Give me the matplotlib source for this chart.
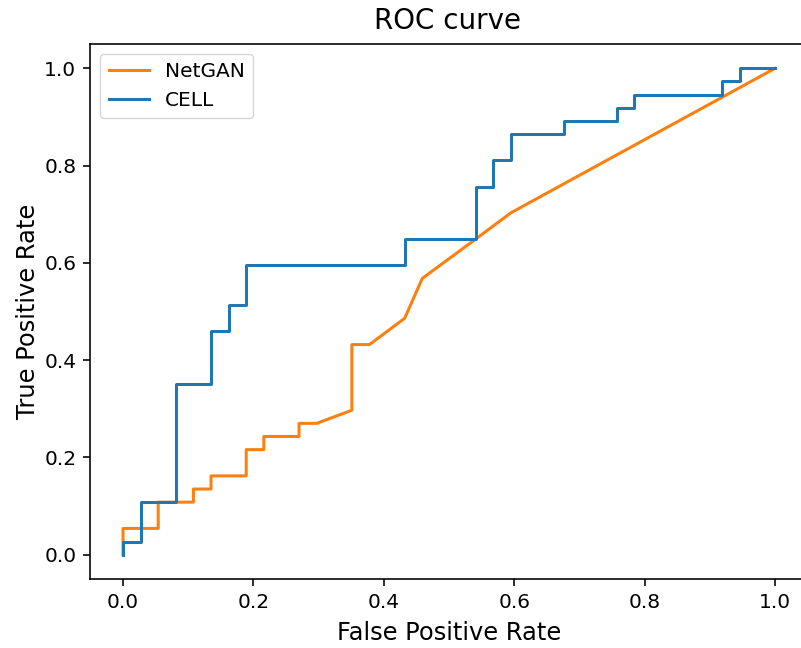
import matplotlib
matplotlib.use("Agg")
import matplotlib.pyplot as plt

# NetGAN ROC curve (orange)
netgan_fpr = [0.0, 0.0, 0.054, 0.054, 0.108, 0.108, 0.135, 0.135, 0.189, 0.189, 0.216, 0.216,
              0.270, 0.270, 0.297, 0.351, 0.351, 0.378, 0.432, 0.459, 0.541, 0.595, 1.0]
netgan_tpr = [0.0, 0.054, 0.054, 0.108, 0.108, 0.135, 0.135, 0.162, 0.162, 0.216, 0.216, 0.243,
              0.243, 0.270, 0.270, 0.297, 0.432, 0.432, 0.486, 0.568, 0.649, 0.703, 1.0]

# CELL ROC curve (blue)
cell_fpr = [0.0, 0.0, 0.027, 0.027, 0.081, 0.081, 0.135, 0.135, 0.162, 0.162, 0.189, 0.189,
            0.432, 0.432, 0.541, 0.541, 0.568, 0.568, 0.595, 0.595, 0.676, 0.676, 0.757, 0.757,
            0.784, 0.784, 0.919, 0.919, 0.946, 0.946, 1.0]
cell_tpr = [0.0, 0.027, 0.027, 0.108, 0.108, 0.351, 0.351, 0.459, 0.459, 0.514, 0.514, 0.595,
            0.595, 0.649, 0.649, 0.757, 0.757, 0.811, 0.811, 0.865, 0.865, 0.892, 0.892, 0.919,
            0.919, 0.946, 0.946, 0.973, 0.973, 1.0, 1.0]

labels = ["NetGAN", "CELL"]
colors = ["#ff7f0e", "#1f77b4"]

s = 1.45
plt.rcParams['font.family'] = ['DejaVu Sans']
fig = plt.figure(figsize=(8.01, 6.48), dpi=100)
W, H = 801, 648
left, right, bottom, top = 90.4, 807.6, 579, 44
ax = fig.add_axes([left / W, (H - bottom) / H, (right - left) / W, (bottom - top) / H])

ax.plot(netgan_fpr, netgan_tpr, color=colors[0], lw=1.5 * s, label=labels[0])
ax.plot(cell_fpr, cell_tpr, color=colors[1], lw=1.5 * s, label=labels[1])

ax.set_xlim(-0.05, 1.05)
ax.set_ylim(-0.05, 1.05)
ax.set_xticks([0.0, 0.2, 0.4, 0.6, 0.8, 1.0])
ax.set_yticks([0.0, 0.2, 0.4, 0.6, 0.8, 1.0])
ax.tick_params(labelsize=10 * s, length=3.5 * s, width=0.8 * s, pad=3.5 * s)
for sp in ax.spines.values():
    sp.set_linewidth(0.8 * s)

ax.set_xlabel("False Positive Rate", fontsize=17.4, labelpad=6.5)
ax.set_ylabel("True Positive Rate", fontsize=17.4, labelpad=2.8)
fig.text((left + 801) / 2 / W + 0.002, 1 - 21 / H, "ROC curve", fontsize=20,
         ha="center", va="center", transform=fig.transFigure)
ax.legend(loc="upper left", fontsize=10 * s, handlelength=2.0, borderpad=0.4,
          labelspacing=0.5, borderaxespad=0.5)

fig.savefig("out.png", dpi=100)
